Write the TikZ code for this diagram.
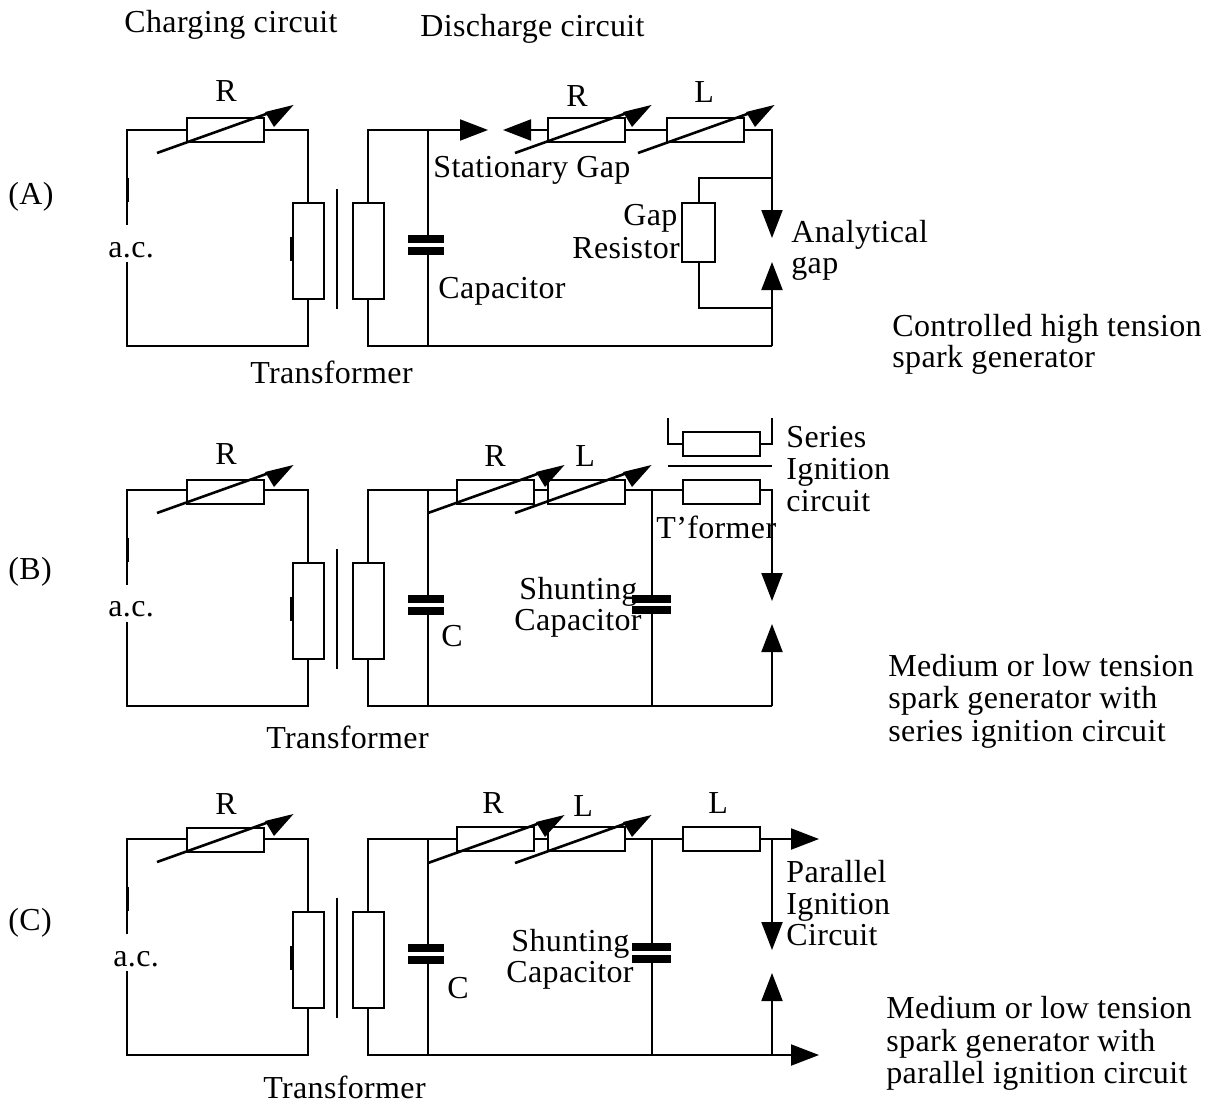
\documentclass[tikz,border=0pt]{standalone}
\usepackage{fontspec}
\setmainfont[LetterSpace=1.1]{Liberation Serif}
\usetikzlibrary{arrows.meta}

\tikzset{
	wire/.style={line width=1pt},
	gaptip/.style={-{Triangle[length=14pt,width=10.5pt]}},
	resbox/.style={draw, line width=1pt, inner sep=0, outer sep=0, minimum width=38.5pt, minimum height=12pt},
	coilbox/.style={draw, line width=1pt, inner sep=0, outer sep=0, minimum width=15.5pt, minimum height=48pt},
	plate/.style={fill=black, inner sep=0, outer sep=0, minimum width=18pt, minimum height=4pt},
	lab/.style={anchor=base west, inner sep=0, yshift=-0.5pt, font=\fontsize{16}{18}\selectfont}
}

\begin{document}
\begin{tikzpicture}[x=0.5pt, y=-0.5pt]
	\useasboundingbox (0, 0) rectangle (1213, 1102);

	% charging side and first capacitor, same in all three circuits
	\foreach \p/\yt/\yb/\yr in {A/130/346/130, B/490/706/492, C/839/1055/840} {
		\coordinate (tl\p) at (127, \yt);
		\coordinate (bl\p) at (127, \yb);
		\coordinate (acu\p) at (127, \yt+95);
		\coordinate (acl\p) at (127, \yt+132);
		\coordinate (ct\p) at (428, \yt);
		\coordinate (cb\p) at (428, \yb);
		\node[resbox] (rc\p) at (225, \yr) {};
		\node[coilbox] (pri\p) at (308, \yt+121) {};
		\node[coilbox] (sec\p) at (368, \yt+121) {};
		\coordinate (coreu\p) at (337, \yt+59);
		\coordinate (corel\p) at (337, \yt+179);
		\node[plate] (pa\p) at (425.5, \yt+109) {};
		\node[plate] (pb\p) at (425.5, \yt+120.5) {};

		\draw[wire] (acu\p) -- (tl\p) -- (rc\p.west |- tl\p);
		\draw[wire] (rc\p.east |- tl\p) -| (pri\p.north);
		\draw[wire] (pri\p.south) |- (bl\p) -- (acl\p);
		\draw[wire] (coreu\p) -- (corel\p);
		\draw[wire] (sec\p.north) |- (ct\p);
		\draw[wire] (sec\p.south) |- (cb\p);
		\draw[wire] (ct\p) -- (ct\p |- pa\p.north) (ct\p |- pb\p.south) -- (cb\p);
		\draw[line width=1.5pt] (127, \yt+48) -- (127, \yt+72);
		\draw[line width=1.5pt] (291, \yt+107) -- (291, \yt+131);
	}

	% circuit A
	\node[resbox] (rdA) at (586, 130) {};
	\node[resbox] (ldA) at (705.5, 130) {};
	\node[coilbox, minimum width=16.5pt, minimum height=29.5pt] (grA) at (698.5, 232.5) {};
	\coordinate (trA) at (772, 130);
	\coordinate (brA) at (772, 346);
	\coordinate (gsA) at (488, 130);
	\coordinate (gsbA) at (503, 130);
	\coordinate (guA) at (772, 238);
	\coordinate (glA) at (772, 262);
	\coordinate (gtA) at (772, 178);
	\coordinate (gbA) at (772, 308);
	\draw[wire, gaptip] (ctA) -- (gsA);
	\draw[wire, gaptip] (rdA.west) -- (gsbA);
	\draw[wire] (rdA.east) -- (ldA.west);
	\draw[wire, gaptip] (ldA.east) -| (guA);
	\draw[wire, gaptip] (brA) -- (glA);
	\draw[wire] (cbA) -- (brA);
	\draw[wire] (gtA) -| (grA.north);
	\draw[wire] (gbA) -| (grA.south);

	% circuit B
	\node[resbox] (rdB) at (495, 492) {};
	\node[resbox] (ldB) at (586, 492) {};
	\node[resbox] (tpB) at (721, 492) {};
	\node[resbox] (tsB) at (721, 444) {};
	\node[plate, minimum width=19.5pt] (spaB) at (651.5, 599) {};
	\node[plate, minimum width=19.5pt] (spbB) at (651.5, 610) {};
	\coordinate (stB) at (652, 490);
	\coordinate (sbB) at (652, 706);
	\coordinate (trB) at (772, 490);
	\coordinate (guB) at (772, 601);
	\coordinate (glB) at (772, 624);
	\coordinate (brB) at (772, 706);
	\coordinate (stubaB) at (668, 418);
	\coordinate (stubbB) at (772, 418);
	\coordinate (corelB) at (668, 466);
	\coordinate (corerB) at (772, 466);
	\draw[wire] (ctB) -- (rdB.west |- ctB);
	\draw[wire] (rdB.east |- stB) -- (ldB.west |- stB);
	\draw[wire] (ldB.east |- stB) -- (tpB.west |- stB);
	\draw[wire, gaptip] (tpB.east |- stB) -| (guB);
	\draw[wire, gaptip] (brB) -- (glB);
	\draw[wire] (cbB) -- (brB);
	\draw[wire] (stB) -- (stB |- spaB.north) (stB |- spbB.south) -- (sbB);
	\draw[wire] (corelB) -- (corerB);
	\draw[wire] (stubaB) |- (tsB.west);
	\draw[wire] (stubbB) |- (tsB.east);

	% circuit C
	\node[resbox] (rdC) at (495, 839) {};
	\node[resbox] (ldC) at (586, 839) {};
	\node[resbox] (lsC) at (721, 839) {};
	\node[plate, minimum width=19.5pt] (spaC) at (651.5, 946.5) {};
	\node[plate, minimum width=19.5pt] (spbC) at (651.5, 959) {};
	\coordinate (stC) at (652, 839);
	\coordinate (sbC) at (652, 1055);
	\coordinate (outtC) at (819, 839);
	\coordinate (outbC) at (819, 1055);
	\coordinate (trC) at (772, 839);
	\coordinate (guC) at (772, 950);
	\coordinate (glC) at (772, 973);
	\coordinate (brC) at (772, 1055);
	\draw[wire] (ctC) -- (rdC.west);
	\draw[wire] (rdC.east) -- (ldC.west);
	\draw[wire] (ldC.east) -- (lsC.west);
	\draw[wire, gaptip] (lsC.east) -- (outtC);
	\draw[wire, gaptip] (trC) -- (guC);
	\draw[wire, gaptip] (brC) -- (glC);
	\draw[wire, gaptip] (cbC) -- (outbC);
	\draw[wire] (stC) -- (stC |- spaC.north) (stC |- spbC.south) -- (sbC);

	% variable resistors, line and head
	\foreach \x/\y in {157/153, 515/153, 638/153, 157/513, 428/513, 515/513, 157/862, 428/863, 515/863} {
		\draw[line width=1.3pt] (\x, \y) -- ++(112, -40);
		\fill (\x+108, \y-41) -- (\x+136.5, \y-48) -- (\x+117, \y-26) -- cycle;
	}

	% labels
	\node[lab] (chg) at (124, 32) {Charging circuit};
	\node[lab] (dis) at (420, 36) {Discharge circuit};
	\node[lab] (ta) at (8, 203) {(A)};
	\node[lab] (tb) at (8, 578) {(B)};
	\node[lab] (tc) at (8, 929) {(C)};

	\node[lab] (rcA) at (215, 100) {R};
	\node[lab] (acA) at (108, 256) {a.c.};
	\node[lab] (trfA) at (250, 382) {Transformer};
	\node[lab] (rA) at (566, 105) {R};
	\node[lab] (lA) at (694, 102) {L};
	\node[lab] (statA) at (433, 176) {Stationary Gap};
	\node[lab] (capA) at (438, 297) {Capacitor};
	\node[lab] (gapA) at (623, 224) {Gap};
	\node[lab] (resA) at (572, 257) {Resistor};
	\node[lab] (anaA) at (791, 241) {Analytical};
	\node[lab] (agA) at (791, 272) {gap};
	\node[lab] (nota) at (892, 335) {Controlled high tension};
	\node[lab] (notb) at (892, 366) {spark generator};

	\node[lab] (rcB) at (215, 463) {R};
	\node[lab] (acB) at (108, 615) {a.c.};
	\node[lab] (trfB) at (266, 747) {Transformer};
	\node[lab] (rB) at (484, 465) {R};
	\node[lab] (lB) at (575, 465) {L};
	\node[lab] (cB) at (441, 645) {C};
	\node[lab] (shuB) at (519, 598) {Shunting};
	\node[lab] (capB) at (514, 629) {Capacitor};
	\node[lab] (tfB) at (656, 537) {T’former};
	\node[lab] (serB) at (786, 446) {Series};
	\node[lab] (ignB) at (786, 478) {Ignition};
	\node[lab] (cirB) at (786, 510) {circuit};
	\node[lab] (notc) at (888, 675) {Medium or low tension};
	\node[lab] (notd) at (888, 707) {spark generator with};
	\node[lab] (note) at (888, 740) {series ignition circuit};

	\node[lab] (rcC) at (215, 813) {R};
	\node[lab] (acC) at (113, 965) {a.c.};
	\node[lab] (trfC) at (263, 1097) {Transformer};
	\node[lab] (rC) at (482, 812) {R};
	\node[lab] (lC) at (573, 815) {L};
	\node[lab] (lsl) at (708, 812) {L};
	\node[lab] (cC) at (447, 997) {C};
	\node[lab] (shuC) at (511, 950) {Shunting};
	\node[lab] (capC) at (506, 981) {Capacitor};
	\node[lab] (parC) at (786, 881) {Parallel};
	\node[lab] (ignC) at (786, 913) {Ignition};
	\node[lab] (cirC) at (786, 944) {Circuit};
	\node[lab] (notf) at (886, 1017) {Medium or low tension};
	\node[lab] (notg) at (886, 1050) {spark generator with};
	\node[lab] (noth) at (886, 1082) {parallel ignition circuit};
\end{tikzpicture}
\end{document}
